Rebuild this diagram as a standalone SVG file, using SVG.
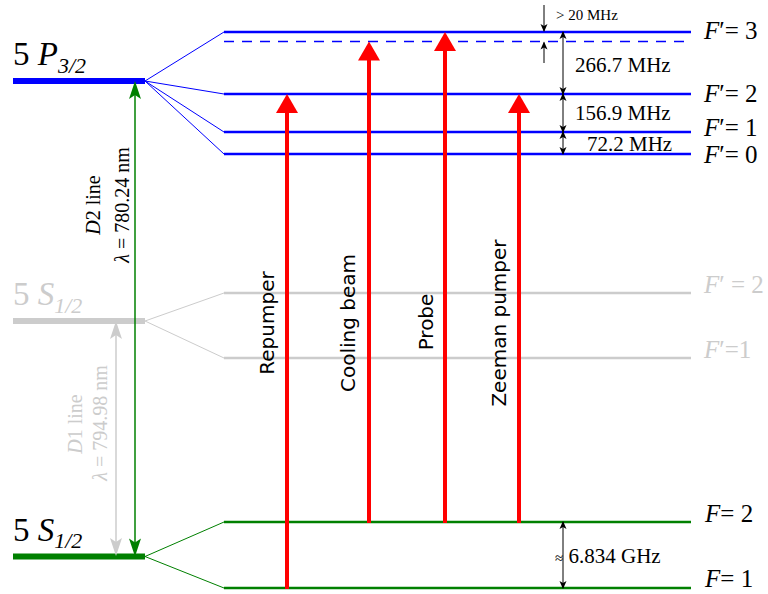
<svg xmlns="http://www.w3.org/2000/svg" width="768" height="594" viewBox="0 0 768 594">
<style>
.serif{font-family:"Liberation Serif","DejaVu Serif",serif;}
.sans{font-family:"DejaVu Sans","Liberation Sans",sans-serif;font-size:20px;fill:#000;}
.it{font-style:italic;}
.big{font-size:33px;}
.sub{font-size:22px;font-style:italic;}
.flab{font-size:25px;}
.dim{font-size:21px;}
.small{font-size:15px;}
.dl{font-size:20px;}
.blue{stroke:#0000ff;fill:none;}
.gray{stroke:#cccccc;fill:none;}
.green{stroke:#008000;fill:none;}
.bar{stroke-width:6;}
.lvl{stroke-width:2.5;}
.fan{stroke-width:1;}
.red{stroke:#ff0000;stroke-width:4;fill:none;marker-end:url(#rh);}
.dimline{stroke:#000;stroke-width:1;fill:none;marker-start:url(#bh);marker-end:url(#bh);}
.gtext{fill:#cccccc;}
</style>
<defs>
<marker id="rh" markerUnits="userSpaceOnUse" markerWidth="20" markerHeight="22" refX="6" refY="11" orient="auto" overflow="visible">
<path d="M0,0 L19,11 L0,22 z" fill="#ff0000"/>
</marker>
<marker id="gh" markerUnits="userSpaceOnUse" markerWidth="18" markerHeight="14" refX="10" refY="7" orient="auto-start-reverse" overflow="visible">
<path d="M0,1 L18,7 L0,13 L4,7 z" fill="#008000"/>
</marker>
<marker id="yh" markerUnits="userSpaceOnUse" markerWidth="18" markerHeight="14" refX="10" refY="7" orient="auto-start-reverse" overflow="visible">
<path d="M0,1 L18,7 L0,13 L4,7 z" fill="#cccccc"/>
</marker>
<marker id="bh" markerUnits="userSpaceOnUse" markerWidth="8" markerHeight="8" refX="7" refY="4" orient="auto-start-reverse" overflow="visible">
<path d="M0,0.5 L8,4 L0,7.5 L2,4 z" fill="#000"/>
</marker>
</defs>

<g id="d1-level">
<line class="gray bar" x1="13" y1="321" x2="145" y2="321"/>
<path class="gray fan" d="M145,321 L224,293 M145,321 L224,358"/>
<text class="serif big gtext" x="13" y="305">5 <tspan class="it">S</tspan><tspan class="sub" dy="8">1/2</tspan></text>
</g>
<g id="d1-fp2">
<line class="gray lvl" x1="224" y1="293" x2="691" y2="293"/>
<text class="serif flab gtext" x="704" y="293"><tspan class="it">F</tspan>′ = 2</text>
</g>
<g id="d1-fp1">
<line class="gray lvl" x1="224" y1="358" x2="691" y2="358"/>
<text class="serif flab gtext" x="704" y="358"><tspan class="it">F</tspan>′=1</text>
</g>

<g id="p32-level">
<line class="blue bar" x1="13" y1="81" x2="145" y2="81"/>
<path class="blue fan" d="M145,81 L224,32 M145,81 L224,94 M145,81 L224,132 M145,81 L224,154"/>
<text class="serif big" x="13" y="65">5 <tspan class="it">P</tspan><tspan class="sub" dy="8">3/2</tspan></text>
</g>
<g id="fp3">
<line class="blue lvl" x1="224" y1="32" x2="691" y2="32"/>
<text class="serif flab" x="704" y="39"><tspan class="it">F</tspan>′= 3</text>
</g>
<g id="detuned">
<line class="blue" stroke-width="1.5" stroke-dasharray="10 8" x1="224" y1="41.5" x2="691" y2="41.5"/>
</g>
<g id="fp2">
<line class="blue lvl" x1="224" y1="94" x2="691" y2="94"/>
<text class="serif flab" x="704" y="102"><tspan class="it">F</tspan>′= 2</text>
</g>
<g id="fp1">
<line class="blue lvl" x1="224" y1="132" x2="691" y2="132"/>
<text class="serif flab" x="704" y="136"><tspan class="it">F</tspan>′= 1</text>
</g>
<g id="fp0">
<line class="blue lvl" x1="224" y1="154" x2="691" y2="154"/>
<text class="serif flab" x="704" y="163"><tspan class="it">F</tspan>′= 0</text>
</g>

<g id="s12-level">
<line class="green bar" x1="13" y1="556.5" x2="145" y2="556.5"/>
<path class="green fan" d="M145,556.5 L224,522 M145,556.5 L224,588"/>
<text class="serif big" x="13" y="541">5 <tspan class="it">S</tspan><tspan class="sub" dy="7">1/2</tspan></text>
</g>
<g id="f2">
<line class="green lvl" x1="224" y1="522" x2="691" y2="522"/>
<text class="serif flab" x="705" y="522"><tspan class="it">F</tspan>= 2</text>
</g>
<g id="f1">
<line class="green lvl" x1="224" y1="588" x2="691" y2="588"/>
<text class="serif flab" x="705" y="587"><tspan class="it">F</tspan>= 1</text>
</g>

<g id="connectors">
<line x1="116" y1="329" x2="116" y2="548" stroke="#cccccc" stroke-width="1.5" marker-start="url(#yh)" marker-end="url(#yh)"/>
<line x1="135" y1="89" x2="135" y2="548.5" stroke="#008000" stroke-width="1.5" marker-start="url(#gh)" marker-end="url(#gh)"/>
<line class="red" x1="287" y1="589" x2="287" y2="107"/>
<line class="red" x1="369" y1="523" x2="369" y2="54.5"/>
<line class="red" x1="445" y1="523" x2="445" y2="45"/>
<line class="red" x1="519" y1="523" x2="519" y2="107"/>
<line class="dimline" x1="563" y1="32" x2="563" y2="94"/>
<line class="dimline" x1="563" y1="94" x2="563" y2="132"/>
<line class="dimline" x1="563" y1="132" x2="563" y2="154"/>
<line class="dimline" x1="563" y1="522" x2="563" y2="588"/>
<line x1="544" y1="5" x2="544" y2="31" stroke="#000" stroke-width="1" marker-end="url(#bh)"/>
<line x1="544" y1="63" x2="544" y2="42.5" stroke="#000" stroke-width="1" marker-end="url(#bh)"/>
</g>

<g id="labels">
<text class="serif dl" transform="translate(100,205) rotate(-90)" text-anchor="middle"><tspan class="it">D</tspan>2 line</text>
<text class="serif dl" transform="translate(129,205) rotate(-90)" text-anchor="middle"><tspan class="it">λ</tspan> = 780.24 nm</text>
<text class="serif dl gtext" transform="translate(82,424) rotate(-90)" text-anchor="middle"><tspan class="it">D</tspan>1 line</text>
<text class="serif dl gtext" transform="translate(107,423) rotate(-90)" text-anchor="middle"><tspan class="it">λ</tspan> = 794.98 nm</text>
<text class="sans" transform="translate(274,323) rotate(-90)" text-anchor="middle">Repumper</text>
<text class="sans" transform="translate(355,323) rotate(-90)" text-anchor="middle">Cooling beam</text>
<text class="sans" transform="translate(433,322) rotate(-90)" text-anchor="middle">Probe</text>
<text class="sans" transform="translate(506,323) rotate(-90)" text-anchor="middle">Zeeman pumper</text>
<text class="serif small" x="556" y="20">&gt; 20 MHz</text>
<text class="serif dim" x="575" y="72">266.7 MHz</text>
<text class="serif dim" x="575" y="120">156.9 MHz</text>
<text class="serif dim" x="587" y="151">72.2 MHz</text>
<text class="serif dim" x="555" y="563"><tspan font-size="15">≈</tspan> 6.834 GHz</text>
</g>
</svg>
